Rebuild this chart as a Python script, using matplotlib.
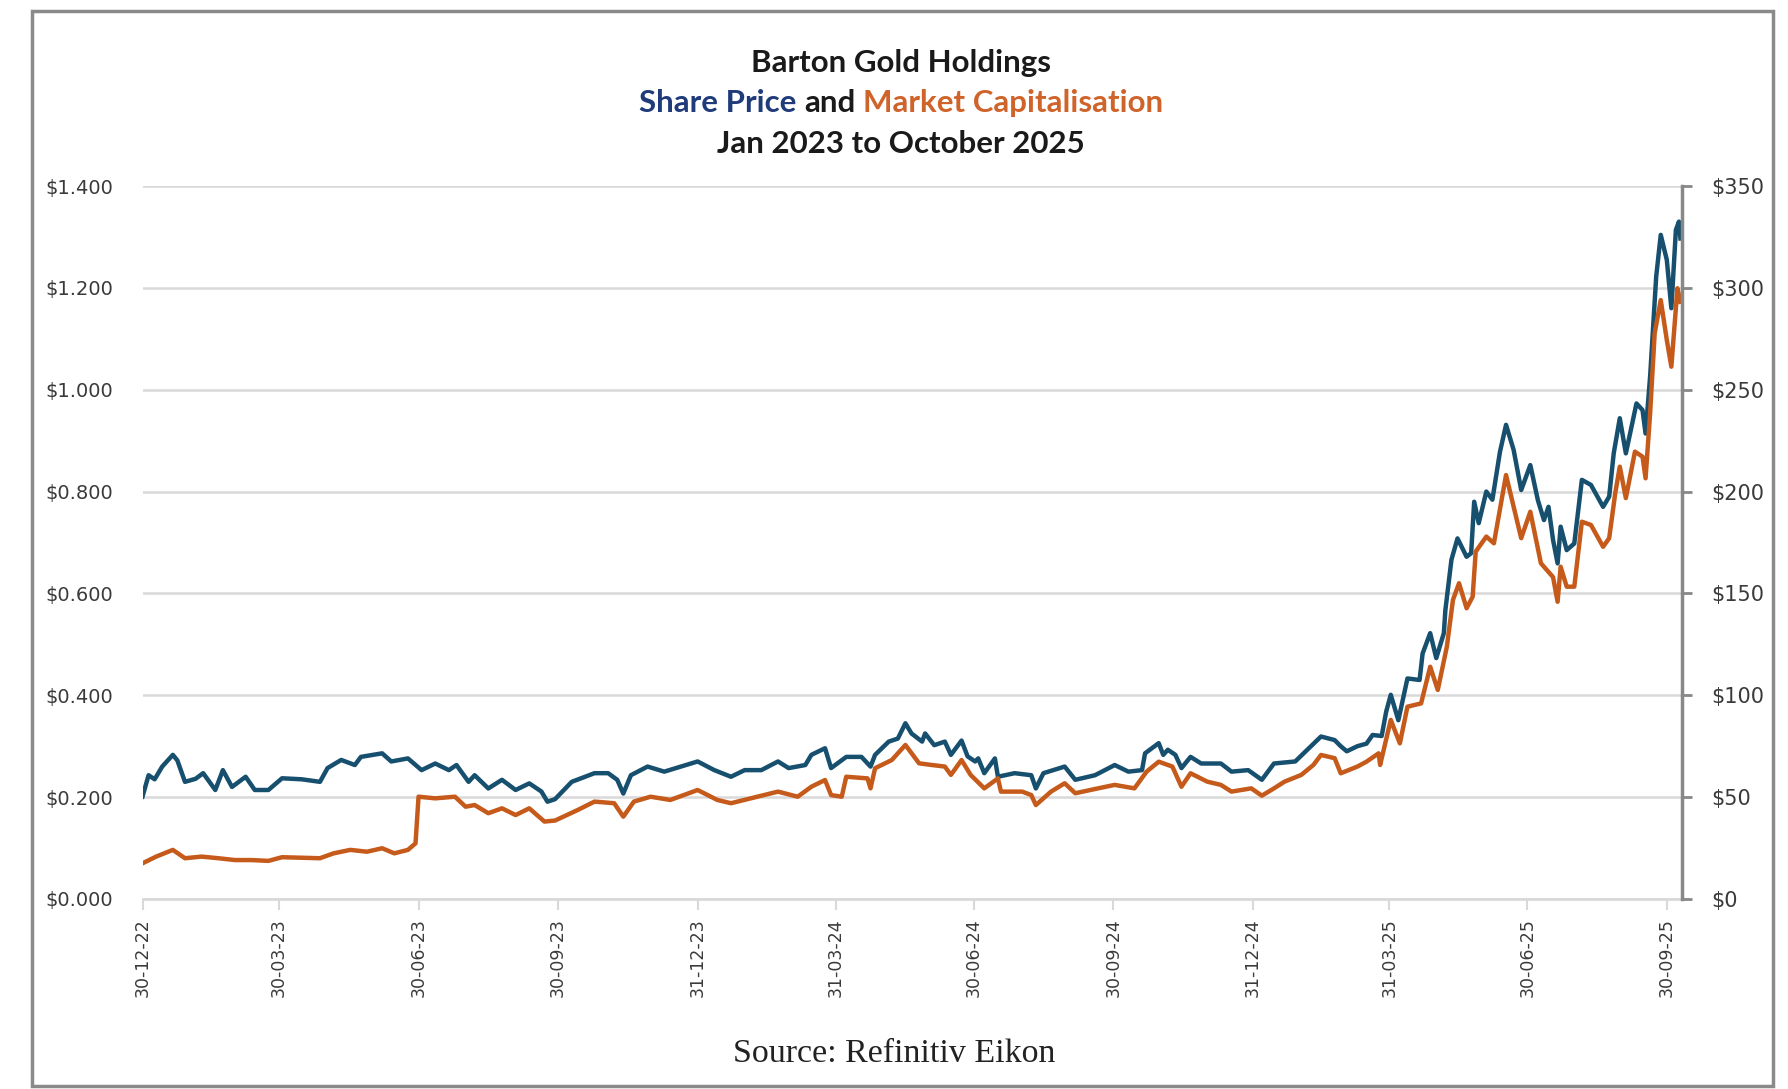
import matplotlib
matplotlib.use('Agg')
import matplotlib.pyplot as plt
from matplotlib.patches import Rectangle
import pandas as pd

# days counted from 30-12-2022
price_days = [0, 4, 8, 13, 20, 23, 28, 35, 40, 48, 53, 59, 68, 74, 83, 92, 105, 117, 122, 131,
              140, 144, 158, 164, 175, 184, 193, 202, 207, 215, 219, 228, 237, 246, 255, 263, 267, 272,
              283, 298, 307, 313, 317, 322, 333, 344, 355, 366, 377, 388, 397, 408, 419, 426, 437,
              441, 450, 454, 464, 474, 480, 483, 492, 498, 503, 507, 514, 516, 522, 529, 533, 540,
              544, 549, 551, 555, 562, 564, 575, 586, 589, 594, 608, 615, 628, 641, 650, 659, 661,
              670, 673, 676, 681, 685, 691, 698, 711, 718, 729, 738, 746, 760, 768, 777, 786, 790,
              794, 801, 807, 811, 817, 820, 823, 828, 834, 842, 844, 849, 853, 858, 859, 863, 867,
              873, 876, 878, 881, 886, 890, 895, 899, 904, 909, 915, 920, 924, 927, 930, 933, 935,
              939, 944, 949, 955, 963, 967, 970, 974, 978, 985, 989, 991, 994, 998, 1001, 1005,
              1008, 1011, 1013, 1014]
price = [0.201, 0.243, 0.235, 0.260, 0.283, 0.272, 0.230, 0.236, 0.247, 0.214, 0.253, 0.220, 0.240,
         0.214, 0.214, 0.237, 0.235, 0.230, 0.257, 0.273, 0.263, 0.279, 0.286, 0.270, 0.276, 0.253,
         0.266, 0.253, 0.263, 0.230, 0.243, 0.217, 0.234, 0.214, 0.227, 0.211, 0.191, 0.196,
         0.230, 0.247, 0.247, 0.234, 0.207, 0.243, 0.260, 0.250, 0.260, 0.270, 0.253, 0.240, 0.253,
         0.253, 0.270, 0.257, 0.263, 0.283, 0.296, 0.257, 0.279, 0.279, 0.260, 0.283, 0.309, 0.315,
         0.345, 0.325, 0.309, 0.325, 0.302, 0.309, 0.283, 0.311, 0.280, 0.270, 0.276, 0.247, 0.276,
         0.240, 0.247, 0.243, 0.217, 0.247, 0.260, 0.234, 0.243, 0.263, 0.250, 0.253, 0.286, 0.306,
         0.283, 0.293, 0.283, 0.257, 0.279, 0.266, 0.266, 0.250, 0.253, 0.234, 0.266, 0.270, 0.293,
         0.319, 0.312, 0.300, 0.290, 0.300, 0.305, 0.322, 0.320, 0.368, 0.401, 0.351, 0.433, 0.430,
         0.482, 0.522, 0.473, 0.522, 0.567, 0.666, 0.708, 0.672, 0.679, 0.780, 0.738, 0.800, 0.784,
         0.878, 0.931, 0.882, 0.803, 0.852, 0.783, 0.744, 0.770, 0.705, 0.659, 0.731, 0.685, 0.698,
         0.823, 0.813, 0.770, 0.790, 0.875, 0.944, 0.875, 0.973, 0.960, 0.914, 1.026, 1.222, 1.304,
         1.255, 1.160, 1.314, 1.330, 1.297]

mcap_days = [0, 9, 20, 28, 39, 50, 61, 72, 83, 92, 117, 126, 137, 148, 158, 166, 175, 180, 182, 193,
             206, 213, 219, 228, 237, 246, 255, 265, 272, 287, 298, 311, 317, 324, 335, 348, 366,
             379, 388, 401, 419, 432, 441, 450, 454, 461, 464, 478, 480, 483, 494, 503, 512, 520,
             529, 533, 540, 546, 555, 564, 566, 580, 586, 589, 599, 608, 615, 630, 641, 654, 662,
             670, 679, 685, 691, 702, 711, 718, 731, 738, 746, 753, 764, 772, 777, 786, 790, 801,
             807, 815, 816, 823, 829, 834, 843, 849, 854, 860, 864, 868, 873, 877, 879, 886, 891,
             899, 904, 909, 915, 922, 930, 933, 935, 939, 944, 949, 955, 963, 967, 971, 974, 978,
             984, 989, 991, 994, 997, 1001, 1005, 1008, 1012, 1014]
mcap = [17.5, 20.8, 24.1, 20.0, 20.8, 20.0, 19.1, 19.1, 18.7, 20.5, 20.0, 22.4, 24.1, 23.2, 24.9,
        22.4, 24.1, 27.3, 50.2, 49.4, 50.2, 45.3, 46.1, 42.1, 44.5, 41.2, 44.5, 38.0, 38.5, 43.7,
        47.8, 47.0, 40.4, 47.8, 50.2, 48.6, 53.5, 48.6, 47.0, 49.4, 52.7, 50.2, 55.1, 58.4, 51.0,
        50.2, 60.0, 59.2, 54.3, 64.2, 68.2, 75.6, 66.6, 65.8, 65.0, 60.9, 68.2, 60.9, 54.3, 59.2,
        52.7, 52.7, 51.0, 46.1, 52.7, 56.8, 51.9, 54.3, 56.0, 54.3, 62.5, 67.4, 65.0, 55.1, 61.7,
        57.6, 56.0, 52.7, 54.3, 50.7, 54.3, 57.6, 60.9, 65.8, 70.7, 69.1, 61.7, 65.0, 67.4, 71.5,
        65.8, 87.9, 76.4, 94.4, 96.0, 114.0, 102.6, 123.9, 146.8, 155.0, 142.7, 148.4, 170.5, 177.9,
        174.6, 208.1, 192.5, 177.1, 190.1, 164.8, 158.0, 145.9, 163.1, 153.3, 153.3, 185.2, 183.6,
        172.9, 177.1, 199.2, 212.2, 196.8, 219.6, 217.1, 206.5, 238.4, 277.7, 294.0, 274.4, 261.3,
        299.8, 293.2]

tick_dates = ['2022-12-30', '2023-03-30', '2023-06-30', '2023-09-30', '2023-12-31', '2024-03-31',
              '2024-06-30', '2024-09-30', '2024-12-31', '2025-03-31', '2025-06-30', '2025-09-30']
tick_labels = ['30-12-22', '30-03-23', '30-06-23', '30-09-23', '31-12-23', '31-03-24',
               '30-06-24', '30-09-24', '31-12-24', '31-03-25', '30-06-25', '30-09-25']
left_ticks = [0, 0.2, 0.4, 0.6, 0.8, 1.0, 1.2, 1.4]
right_ticks = [0, 50, 100, 150, 200, 250, 300, 350]

start = pd.Timestamp('2022-12-30')
price_x = start + pd.to_timedelta(price_days, unit='D')
mcap_x = start + pd.to_timedelta(mcap_days, unit='D')

blue = '#174f6e'
orange = '#c55a1a'
grid = '#d9d9d9'
axis_grey = '#888888'
label_col = '#3a3a3a'

fig = plt.figure(figsize=(17.88, 10.89), dpi=100)
ax = fig.add_axes([0.0797, 0.1745, 0.861, 0.6547])
ax2 = ax.twinx()

ax.plot(price_x, price, color=blue, lw=3.2, zorder=3)
ax2.plot(mcap_x, mcap, color=orange, lw=3.2, zorder=2)

ax.set_xlim(start, start + pd.Timedelta(days=1015))
ax.set_ylim(0, 1.4)
ax2.set_ylim(0, 350)

ax.set_yticks(left_ticks)
ax.set_yticklabels(['$%.3f' % v for v in left_ticks])
ax2.set_yticks(right_ticks)
ax2.set_yticklabels(['$%d' % v for v in right_ticks])
ax.set_xticks(pd.to_datetime(tick_dates))
ax.set_xticklabels(tick_labels, rotation=90)

ax.yaxis.grid(True, color=grid, lw=1.8)
ax.set_axisbelow(True)
for s in ['top', 'left', 'right']:
    ax.spines[s].set_visible(False)
    ax2.spines[s].set_visible(False)
ax2.spines['bottom'].set_visible(False)
ax.spines['bottom'].set_color(grid)
ax.spines['bottom'].set_linewidth(2)
ax2.spines['right'].set_visible(True)
ax2.spines['right'].set_color(axis_grey)
ax2.spines['right'].set_linewidth(2.5)

ax.tick_params(axis='y', length=0, pad=21, labelsize=14, labelcolor=label_col)
ax.tick_params(axis='x', length=8, width=1.5, color=grid, pad=6, labelsize=12.5, labelcolor=label_col)
ax2.tick_params(axis='y', length=7, width=2, color=axis_grey, pad=14, labelsize=15, labelcolor=label_col)

# title, with the middle line in two colours
tfont = dict(family='Lato', weight='bold', size=22.5)
cx = 0.504
fig.text(cx, 1 - 63 / 1089, 'Barton Gold Holdings', ha='center', va='center', color='#1a1a1a', **tfont)
fig.text(cx, 1 - 144 / 1089, 'Jan 2023 to October 2025', ha='center', va='center', color='#1a1a1a', **tfont)

renderer = fig.canvas.get_renderer()


def width_of(s):
    t = fig.text(0, 0, s, **tfont)
    w = t.get_window_extent(renderer).width / fig.bbox.width
    t.remove()
    return w


y2 = 1 - 103 / 1089
full = 'Share Price and Market Capitalisation'
W = width_of(full)
x0 = cx - W / 2
fig.text(x0, y2, 'Share Price', ha='left', va='center', color='#1f3b7a', **tfont)
fig.text(x0 + width_of('Share Price and') - width_of('and'), y2, 'and', ha='left', va='center',
         color='#1a1a1a', **tfont)
fig.text(x0 + W - width_of('Market Capitalisation'), y2, 'Market Capitalisation', ha='left',
         va='center', color='#d0632a', **tfont)

fig.text(0.5, 1 - 1054 / 1089, 'Source: Refinitiv Eikon', ha='center', va='center',
         family='Liberation Serif', size=24.5, color='#222222')

fig.patches.append(Rectangle((32 / 1788, 3 / 1089), (1773 - 32) / 1788, (1078 - 3) / 1089,
                             transform=fig.transFigure, fill=False, edgecolor='#8a8a8a', lw=2.5))

fig.savefig('out.png', dpi=100)
